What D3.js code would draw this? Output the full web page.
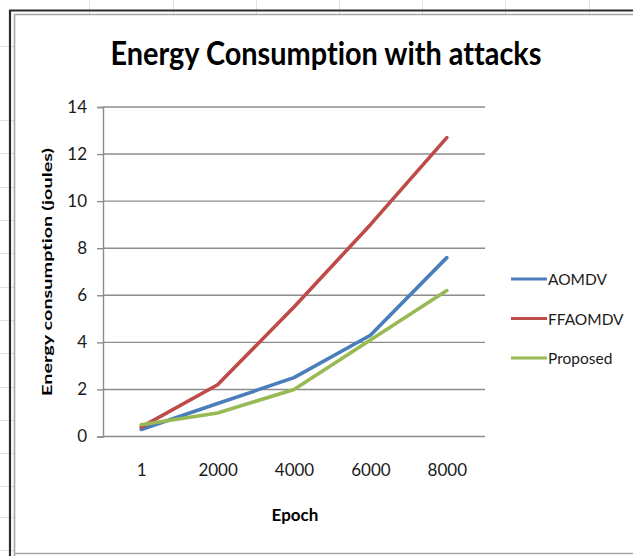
<!DOCTYPE html>
<html>
<head>
<meta charset="utf-8">
<script src="https://cdn.jsdelivr.net/npm/d3@7"></script>
<style>
  html, body { margin: 0; padding: 0; background: #fff; }
  svg { display: block; }
  text { font-family: "Liberation Sans Narrow", "Arial Narrow", Lato, sans-serif; font-variant-ligatures: none; }
</style>
</head>
<body>
<svg id="chart" width="633" height="556"></svg>
<script>
// Energy consumption per epoch for each routing scheme
const epochs = ["1", "2000", "4000", "6000", "8000"];
const aomdv = [0.3, 1.4, 2.5, 4.3, 7.6];
const ffaomdv = [0.4, 2.2, 5.5, 9.0, 12.7];
const proposed = [0.5, 1.0, 2.0, 4.1, 6.2];
const seriesNames = ["AOMDV", "FFAOMDV", "Proposed"];
const seriesColors = ["#4a7ebb", "#be4b48", "#98b954"];
const yTicks = [0, 2, 4, 6, 8, 10, 12, 14];

const series = [aomdv, ffaomdv, proposed].map((values, i) => ({
  name: seriesNames[i],
  color: seriesColors[i],
  values
}));

const svg = d3.select("#chart");

// Sheet cell lines peeking around the chart frame
const sheet = svg.append("g").attr("stroke", "#dde3ec").attr("stroke-width", 1);
[89, 173, 256, 339, 422, 505, 589].forEach(x =>
  sheet.append("line").attr("x1", x + 0.5).attr("x2", x + 0.5).attr("y1", 0).attr("y2", 14));
[46, 120, 153, 187, 220, 253, 287, 320, 353, 387, 420, 453, 486, 517, 550].forEach(y =>
  sheet.append("line").attr("x1", 0).attr("x2", 14).attr("y1", y + 0.5).attr("y2", y + 0.5));

// Chart frame: dark outer edge and light inner edge
svg.append("path")
  .attr("d", "M10,556 V10.5 H633")
  .attr("fill", "none").attr("stroke", "#2b2b2b").attr("stroke-width", 2.2);
svg.append("path")
  .attr("d", "M14.5,556 V14.5 H633 M14,553.5 H633")
  .attr("fill", "none").attr("stroke", "#a6a6a6").attr("stroke-width", 1.6);

const plot = { left: 103, right: 485, top: 107, bottom: 436.5 };

const x = d3.scalePoint().domain(epochs).range([plot.left, plot.right]).padding(0.5);
const y = d3.scaleLinear().domain([0, 14]).range([plot.bottom, plot.top]);

// Horizontal gridlines
svg.append("g")
  .selectAll("line")
  .data(yTicks.filter(t => t > 0))
  .join("line")
  .attr("x1", plot.left).attr("x2", plot.right)
  .attr("y1", d => y(d)).attr("y2", d => y(d))
  .attr("stroke", "#8c8c8c").attr("stroke-width", 1.4);

// Y axis
const yAxis = svg.append("g")
  .attr("transform", `translate(${plot.left},0)`)
  .call(d3.axisLeft(y).tickValues(yTicks).tickSize(6).tickPadding(10).tickFormat(d3.format("d")));
yAxis.select(".domain").attr("stroke", "#8c8c8c").attr("stroke-width", 1.4);
yAxis.selectAll(".tick line").attr("stroke", "#8c8c8c").attr("stroke-width", 1.4);
yAxis.selectAll(".tick text")
  .attr("font-family", "'Liberation Sans Narrow', 'Arial Narrow', Lato, sans-serif")
  .attr("font-size", 17).attr("fill", "#1a1a1a");

// X axis
const xAxis = svg.append("g")
  .attr("transform", `translate(0,${plot.bottom})`)
  .call(d3.axisBottom(x).tickSize(0).tickPadding(27));
xAxis.select(".domain").attr("d", `M${plot.left},0H${plot.right}`)
  .attr("stroke", "#8c8c8c").attr("stroke-width", 1.4);
xAxis.selectAll(".tick text")
  .attr("font-family", "'Liberation Sans Narrow', 'Arial Narrow', Lato, sans-serif")
  .attr("font-size", 17).attr("fill", "#1a1a1a");

// Series lines
const line = d3.line()
  .x((d, i) => x(epochs[i]))
  .y(d => y(d));

svg.append("g")
  .selectAll("path")
  .data(series)
  .join("path")
  .attr("d", d => line(d.values))
  .attr("fill", "none")
  .attr("stroke", d => d.color)
  .attr("stroke-width", 3.6)
  .attr("stroke-linejoin", "round")
  .attr("stroke-linecap", "round");

// Title
svg.append("text")
  .attr("x", 326).attr("y", 65)
  .attr("text-anchor", "middle")
  .attr("font-size", 33).attr("font-weight", "bold").attr("fill", "#000")
  .attr("textLength", 431).attr("lengthAdjust", "spacingAndGlyphs")
  .text("Energy Consumption with attacks");

// Axis titles
svg.append("text")
  .attr("transform", "translate(52,272) rotate(-90)")
  .attr("text-anchor", "middle")
  .attr("font-size", 14).attr("font-weight", "bold").attr("fill", "#000")
  .attr("textLength", 248).attr("lengthAdjust", "spacingAndGlyphs")
  .text("Energy consumption (joules)");

svg.append("text")
  .attr("x", 295).attr("y", 521)
  .attr("text-anchor", "middle")
  .attr("font-size", 17).attr("font-weight", "bold").attr("fill", "#000")
  .text("Epoch");

// Legend
const legend = svg.append("g")
  .selectAll("g")
  .data(series)
  .join("g")
  .attr("transform", (d, i) => `translate(511,${279 + i * 39.5})`);
legend.append("line")
  .attr("x1", 0).attr("x2", 36)
  .attr("stroke", d => d.color).attr("stroke-width", 3);
legend.append("text")
  .attr("x", 37).attr("y", 6)
  .attr("font-size", 15.5).attr("fill", "#1a1a1a")
  .text(d => d.name);
</script>
</body>
</html>
